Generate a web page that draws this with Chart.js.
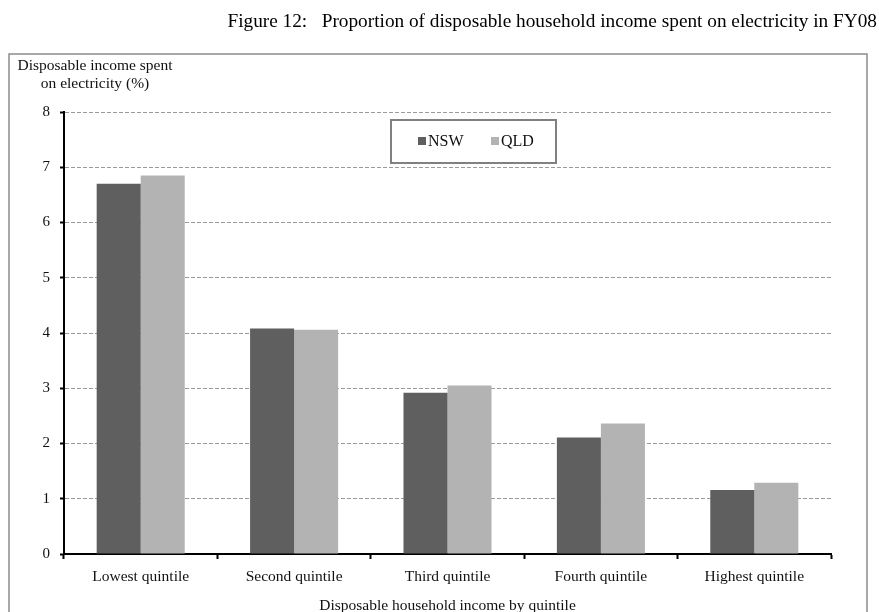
<!DOCTYPE html>
<html><head><meta charset="utf-8">
<script src="https://cdn.jsdelivr.net/npm/chart.js@4.4.1/dist/chart.umd.min.js"></script>
<style>html,body{margin:0;padding:0;background:#fff;} #wrap{position:relative;width:879px;height:612px;}</style>
</head><body><div id="wrap"><canvas id="c" width="879" height="612"></canvas></div>
<script>
const categories = ['Lowest quintile', 'Second quintile', 'Third quintile', 'Fourth quintile', 'Highest quintile'];
const nswValues = [6.70, 4.08, 2.92, 2.11, 1.16];
const qldValues = [6.85, 4.06, 3.05, 2.36, 1.29];
const seriesNames = ['NSW', 'QLD'];
const yTickValues = [0, 1, 2, 3, 4, 5, 6, 7, 8];
const chartTitle = 'Figure 12:   Proportion of disposable household income spent on electricity in FY08';
const yTitleLines = ['Disposable income spent', 'on electricity (%)'];
const xTitle = 'Disposable household income by quintile';

const SERIF = '"Liberation Serif", "DejaVu Serif", serif';

const framePlugin = {
  id: 'frame',
  beforeDraw(chart) {
    const ctx = chart.ctx;
    ctx.save();
    ctx.fillStyle = '#fff';
    ctx.fillRect(0, 0, chart.width, chart.height);
    ctx.strokeStyle = '#8c8c8c';
    ctx.lineWidth = 1.5;
    ctx.strokeRect(9, 54, 858, 600);
    ctx.fillStyle = '#000';
    ctx.font = '19.3px ' + SERIF;
    ctx.textAlign = 'right';
    ctx.textBaseline = 'middle';
    ctx.fillText(chartTitle, 877, 22);
    ctx.font = '15.5px ' + SERIF;
    ctx.textAlign = 'center';
    ctx.fillStyle = '#111';
    yTitleLines.forEach((t, i) => ctx.fillText(t, 95, 66 + i * 18));
    ctx.restore();
  },
  afterDatasetsDraw(chart) {
    const ctx = chart.ctx;
    ctx.save();
    ctx.fillStyle = '#fff';
    ctx.fillRect(391, 120, 165, 43);
    ctx.strokeStyle = '#808080';
    ctx.lineWidth = 2;
    ctx.strokeRect(391, 120, 165, 43);
    ctx.font = '16px ' + SERIF;
    ctx.textBaseline = 'middle';
    ctx.textAlign = 'left';
    let x = 418;
    chart.data.datasets.forEach(ds => {
      ctx.fillStyle = ds.backgroundColor;
      ctx.fillRect(x, 137, 8, 8);
      ctx.fillStyle = '#111';
      ctx.fillText(ds.label, x + 10, 142);
      x += 73;
    });
    ctx.restore();
  }
};

new Chart(document.getElementById('c'), {
  type: 'bar',
  data: {
    labels: categories,
    datasets: [
      { label: seriesNames[0], data: nswValues, backgroundColor: '#5f5f5f', categoryPercentage: 0.574, barPercentage: 1.0 },
      { label: seriesNames[1], data: qldValues, backgroundColor: '#b3b3b3', categoryPercentage: 0.574, barPercentage: 1.0 }
    ]
  },
  options: {
    responsive: false,
    animation: false,
    devicePixelRatio: 1,
    layout: { padding: { top: 112, left: 9, right: 48, bottom: 0 } },
    plugins: { legend: { display: false }, title: { display: false }, tooltip: { enabled: false } },
    scales: {
      x: {
        offset: true,
        grid: { offset: true, drawOnChartArea: false, drawTicks: true, tickLength: 5, tickColor: '#000', tickWidth: 2 },
        border: { display: true, color: '#000', width: 2 },
        ticks: { padding: 9, color: '#111', font: { family: SERIF, size: 15.5 } },
        title: { display: true, text: xTitle, color: '#111', font: { family: SERIF, size: 15.5 }, padding: { top: 0, bottom: -3 } },
        afterFit(s) { s.height = 58; }
      },
      y: {
        min: 0, max: 8,
        afterBuildTicks(s) { s.ticks = yTickValues.map(v => ({ value: v })); },
        ticks: { padding: 10, color: '#111', font: { family: SERIF, size: 15 } },
        grid: {
          color: c => (c.tick && c.tick.value === 0) ? 'rgba(0,0,0,0)' : '#9a9a9a',
          lineWidth: 1, drawTicks: true, tickLength: 4, tickColor: '#000', tickWidth: 2, tickBorderDash: []
        },
        border: { display: true, color: '#000', width: 2, dash: [4, 2] },
        afterFit(s) { s.width = 55; }
      }
    }
  },
  plugins: [framePlugin]
});
</script>
</body></html>
